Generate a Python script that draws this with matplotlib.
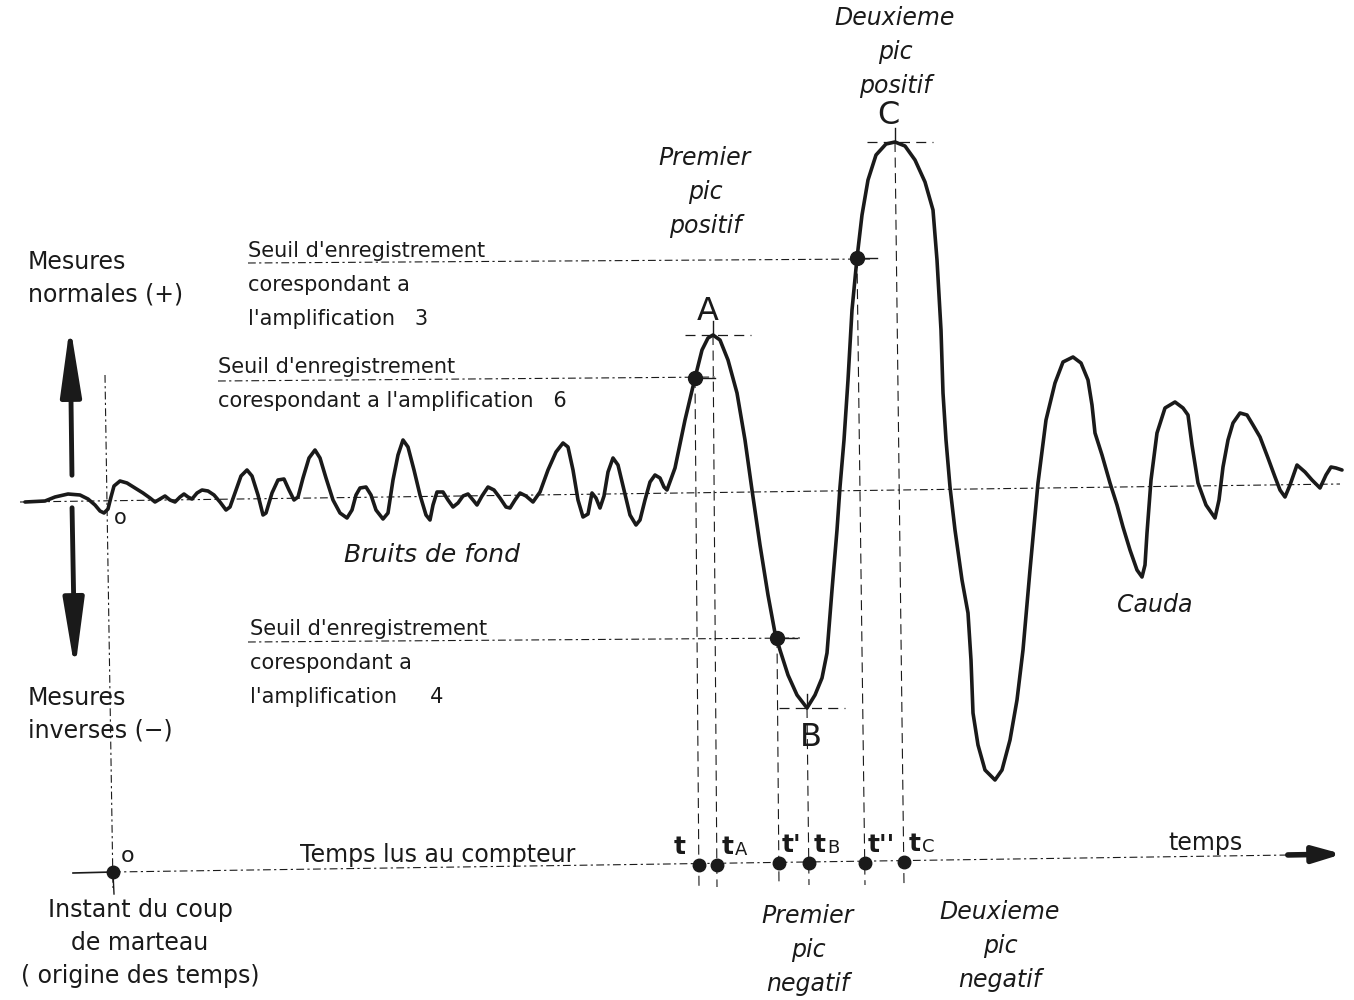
import matplotlib
matplotlib.use("Agg")
import matplotlib.pyplot as plt
import numpy as np

# waveform traced from the record (x to the right, y downwards, in picture units)
wave_x = [25, 45, 55, 68, 80, 88, 95, 100, 104, 108, 111, 114, 120, 127, 135, 143, 150, 155, 160, 165,
          170, 175, 180, 184, 188, 192, 197, 202, 208, 214, 220, 226, 230, 236, 241, 247, 252, 258, 263, 266,
          272, 278, 284, 289, 294, 298, 303, 309, 315, 320, 326, 333, 340, 347, 352, 356, 360, 366, 371, 376,
          383, 388, 393, 398, 403, 408, 414, 420, 426, 430, 433, 437, 443, 448, 453, 458, 463, 468, 473, 477,
          482, 488, 494, 500, 506, 510, 515, 520, 526, 533, 540, 548, 556, 563, 568, 573, 578, 583, 588, 592,
          596, 600, 604, 608, 613, 618, 624, 630, 636, 640, 645, 650, 655, 660, 664, 667, 675, 685, 695, 702,
          708, 713, 720, 728, 737, 745, 752, 760, 768, 775, 780, 788, 797, 807, 815, 822, 827, 832, 837, 840,
          844, 848, 852, 857, 862, 868, 876, 886, 895, 905, 915, 925, 933, 937, 941, 943, 946, 950, 955, 962,
          968, 971, 973, 978, 985, 995, 1002, 1010, 1017, 1023, 1030, 1038, 1046, 1055, 1063, 1073, 1081, 1088, 1092, 1095,
          1102, 1110, 1117, 1123, 1130, 1137, 1142, 1145, 1147, 1151, 1157, 1165, 1175, 1183, 1188, 1192, 1198, 1206, 1215, 1219,
          1223, 1228, 1233, 1240, 1247, 1253, 1260, 1268, 1275, 1280, 1285, 1290, 1297, 1305, 1312, 1320, 1326, 1331, 1336, 1342]
wave_y = [502, 501, 497, 494, 495, 499, 505, 511, 513, 509, 497, 486, 481, 483, 488, 493, 498, 502, 499, 496,
          500, 502, 497, 494, 497, 499, 493, 490, 491, 495, 502, 510, 507, 490, 476, 470, 476, 495, 515, 513,
          493, 480, 479, 490, 500, 497, 478, 458, 450, 458, 478, 500, 513, 518, 510, 495, 488, 487, 495, 510,
          519, 513, 480, 455, 440, 447, 470, 495, 515, 520, 505, 492, 492, 500, 507, 503, 496, 494, 500, 505,
          496, 487, 490, 498, 507, 508, 500, 493, 496, 502, 492, 470, 452, 443, 447, 470, 500, 517, 514, 493,
          498, 508, 496, 472, 458, 465, 490, 515, 525, 520, 500, 482, 475, 478, 487, 490, 468, 420, 378, 350,
          338, 335, 340, 360, 393, 440, 490, 545, 595, 633, 650, 675, 695, 708, 695, 678, 653, 590, 530, 487,
          440, 380, 310, 258, 215, 180, 155, 144, 142, 146, 160, 182, 210, 260, 330, 393, 440, 487, 530, 580,
          613, 660, 713, 745, 770, 780, 770, 740, 700, 650, 570, 483, 420, 383, 362, 357, 363, 380, 405, 433,
          455, 483, 505, 527, 550, 570, 577, 565, 533, 480, 433, 408, 402, 408, 415, 445, 483, 505, 518, 500,
          467, 440, 423, 413, 415, 425, 437, 458, 477, 490, 497, 485, 465, 472, 480, 488, 475, 467, 468, 470]

# zero line and time axis
baseline_x = [20, 1340]
baseline_y = [502, 484]
time_axis_x = [73, 1290]
time_axis_y = [873, 855]
origin_x, origin_y = 113, 872

# recording thresholds (amplification, level, start of the line, end of the line)
threshold_amp = [3, 6, 4]
threshold_y = [261, 379, 640]
threshold_x0 = [248, 218, 248]
threshold_x1 = [870, 718, 800]

# time readings: point on the curve -> point on the time axis
read_names = ["t", "A", "'", "B", "''", "C"]
read_curve_x = [695, 713, 777, 807, 857, 895]
read_curve_y = [378, 335, 638, 708, 258, 142]
read_axis_x = [699, 717, 779, 809, 865, 904]
read_axis_y = [865, 865, 863, 863, 863, 862]
crossing = [True, False, True, False, True, False]

ink = "#1a1a1a"
dash = (0, (7, 3, 2, 3))

fig = plt.figure(figsize=(13.54, 10), dpi=100)
ax = fig.add_axes([0, 0, 1, 1])
ax.set_xlim(0, 1354)
ax.set_ylim(1000, 0)
ax.axis("off")

# zero line
ax.plot(baseline_x, baseline_y, color=ink, lw=0.8, ls=dash)

# the record
ax.plot(wave_x, wave_y, color=ink, lw=2.6, solid_joinstyle="round", solid_capstyle="round")

# vertical through the origin
ax.plot([105, 113], [375, 888], color=ink, lw=0.8, ls=dash)

# time axis
ax.plot([time_axis_x[0], origin_x], [time_axis_y[0], origin_y], color=ink, lw=1.2)
ax.plot([origin_x, time_axis_x[1]], [origin_y, time_axis_y[1]], color=ink, lw=0.8, ls=dash)
ax.annotate("", xy=(1345, 854), xytext=(1285, 855),
            arrowprops=dict(arrowstyle="-|>,head_length=1.2,head_width=0.35", lw=4, color=ink, mutation_scale=14))
ax.plot([origin_x], [origin_y], "o", color=ink, ms=9)
ax.plot([origin_x, origin_x + 1], [origin_y, origin_y + 22], color=ink, lw=1)

# measure direction arrows
ax.annotate("", xy=(70, 322), xytext=(72, 478),
            arrowprops=dict(arrowstyle="-|>,head_length=3.0,head_width=0.45", lw=3.5, color=ink, mutation_scale=14))
ax.annotate("", xy=(75, 673), xytext=(72, 505),
            arrowprops=dict(arrowstyle="-|>,head_length=3.0,head_width=0.45", lw=3.5, color=ink, mutation_scale=14))

# threshold lines
for y, x0, x1 in zip(threshold_y, threshold_x0, threshold_x1):
    ax.plot([x0, x1], [y + 2, y - 2], color=ink, lw=0.8, ls=dash)

# readings
for cx, cy, tx, ty, cr in zip(read_curve_x, read_curve_y, read_axis_x, read_axis_y, crossing):
    ax.plot([cx, tx], [cy, ty + 22], color=ink, lw=0.8, ls=(0, (9, 5)))
    ax.plot([tx], [ty], "o", color=ink, ms=9)
    if cr:
        ax.plot([cx], [cy], "o", color=ink, ms=10)
        ax.plot([cx, cx + 20], [cy, cy], color=ink, lw=1)
    else:
        ax.plot([cx - 28, cx + 38], [cy, cy], color=ink, lw=0.9, ls=(0, (8, 5)))
        ax.plot([cx, cx], [cy - 14, cy], color=ink, lw=1)

# labels of the readings
for tx, ty, nm in zip(read_axis_x, read_axis_y, read_names):
    if nm == "t":
        ax.text(tx - 19, ty - 18, "t", fontsize=18, fontweight="bold", color=ink, ha="center", va="center")
    elif nm in ("A", "B", "C"):
        ax.text(tx + 5, ty - 18, "t", fontsize=18, fontweight="bold", color=ink, ha="left", va="center")
        ax.text(tx + 18, ty - 15, nm, fontsize=13, color=ink, ha="left", va="center")
    else:
        ax.text(tx + 3, ty - 18, "t" + nm, fontsize=18, fontweight="bold", color=ink, ha="left", va="center")

# peak letters
ax.text(708, 312, "A", fontsize=23, color=ink, ha="center", va="center")
ax.text(811, 737, "B", fontsize=23, color=ink, ha="center", va="center")
ax.text(888, 115, "C", fontsize=23, color=ink, ha="center", va="center")

it = dict(fontsize=17, style="italic", color=ink, ha="center", va="center", linespacing=1.55)
ax.text(705, 192, "Premier\npic\npositif", **it)
ax.text(895, 52, "Deuxieme\npic\npositif", **it)
ax.text(808, 950, "Premier\npic\nnegatif", **it)
ax.text(1000, 946, "Deuxieme\npic\nnegatif", **it)
ax.text(1155, 605, "Cauda", **it)
ax.text(432, 555, "Bruits de fond", fontsize=18, style="italic", color=ink, ha="center", va="center")

ax.text(28, 278, "Mesures\nnormales (+)", fontsize=17, color=ink, ha="left", va="center", linespacing=1.45)
ax.text(28, 714, "Mesures\ninverses (−)", fontsize=17, color=ink, ha="left", va="center", linespacing=1.45)
ax.text(120, 518, "o", fontsize=15, color=ink, ha="center", va="center")
ax.text(128, 856, "o", fontsize=16, color=ink, ha="center", va="center")

sl = dict(fontsize=15, color=ink, ha="left", va="center", linespacing=1.9)
ax.text(248, 285, "Seuil d'enregistrement\ncorespondant a\nl'amplification   %d" % threshold_amp[0], **sl)
ax.text(218, 384, "Seuil d'enregistrement\ncorespondant a l'amplification   %d" % threshold_amp[1], **sl)
ax.text(250, 663, "Seuil d'enregistrement\ncorespondant a\nl'amplification     %d" % threshold_amp[2], **sl)

ax.text(300, 855, "Temps lus au compteur", fontsize=17, color=ink, ha="left", va="center")
ax.text(1168, 843, "temps", fontsize=17, color=ink, ha="left", va="center")
ax.text(140, 943, "Instant du coup\nde marteau\n( origine des temps)", fontsize=17, color=ink,
        ha="center", va="center", linespacing=1.5)

fig.savefig("out.png", dpi=100, facecolor="white")
